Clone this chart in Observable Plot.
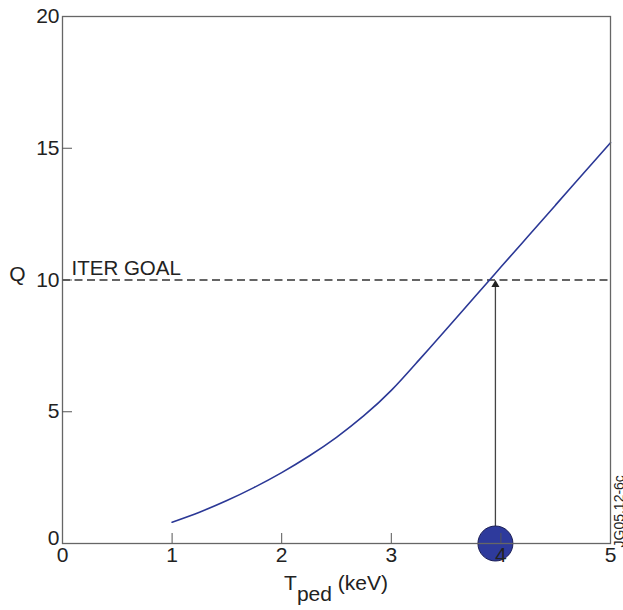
<!DOCTYPE html>
<html><head><meta charset="utf-8">
<script src="https://cdn.jsdelivr.net/npm/d3@7"></script>
<script src="https://cdn.jsdelivr.net/npm/@observablehq/plot@0.6"></script>
<style>body{margin:0;background:#fff;} #chart svg{display:block;}</style>
</head><body><div id="chart"></div>
<script>
// Data
const tped = [1.0, 1.25, 1.5, 1.75, 2.0, 2.25, 2.5, 2.75, 3.0, 3.25, 3.5, 3.75, 4.0, 4.25, 4.5, 4.75, 5.0];
const qValues = [0.81, 1.19, 1.63, 2.13, 2.69, 3.32, 4.03, 4.85, 5.81, 6.95, 8.12, 9.31, 10.49, 11.67, 12.85, 14.03, 15.21];
const xTicks = [0, 1, 2, 3, 4, 5];
const yTicks = [0, 5, 10, 15, 20];
const goalQ = [10];
const goalLabel = ["ITER GOAL"];
const operatingTped = [3.95];
const arrowTipQ = [9.9];
const yLabel = ["Q"];
const figureId = ["JG05.12-6c"];

const curve = tped.map((t, i) => ({t, q: qValues[i]}));
const font = "'Liberation Sans', Arial, Helvetica, sans-serif";

const chart = Plot.plot({
  width: 623, height: 610,
  marginLeft: 62, marginRight: 13, marginTop: 16, marginBottom: 67,
  style: {fontFamily: font, fontSize: "20px", color: "#222", background: "#fff"},
  x: {domain: [0, 5]},
  y: {domain: [0, 20]},
  marks: [
    Plot.ruleY(goalQ, {stroke: "#333", strokeWidth: 1.5, strokeDasharray: "8,4.5"}),
    Plot.line(curve, {x: "t", y: "q", stroke: "#2b3896", strokeWidth: 1.6, curve: "natural"}),
    Plot.ruleX(operatingTped, {x: d => d, y1: 0, y2: arrowTipQ[0], stroke: "#444", strokeWidth: 1.3}),
    Plot.dot(operatingTped, {x: d => d, y: arrowTipQ[0], symbol: "triangle", r: 3, fill: "#222", stroke: "none", dy: 2}),
    Plot.dot(operatingTped, {x: d => d, y: 0, r: 17.5, fill: "#2e3a9c", stroke: "#1c1f55", strokeWidth: 1}),
    Plot.frame({stroke: "#666", strokeWidth: 1.3}),
    Plot.axisX(xTicks.slice(1, -1), {tickSize: 10, dy: -10, text: null, label: null, stroke: "#555"}),
    Plot.axisY(yTicks.slice(1, -1), {tickSize: 10, dx: 10, text: null, label: null, stroke: "#555"}),
    Plot.axisX(xTicks, {tickSize: 0, tickPadding: 4, label: null, fontSize: 21, fill: "#222"}),
    Plot.axisY(yTicks.slice(1), {tickSize: 0, tickPadding: 3, label: null, fontSize: 21, fill: "#222"}),
    Plot.axisY(yTicks.slice(0, 1), {tickSize: 0, tickPadding: 3, dy: -5, label: null, fontSize: 21, fill: "#222"}),
    Plot.text(goalLabel, {x: 0, y: goalQ[0], text: d => d, textAnchor: "start", lineAnchor: "bottom", dx: 9, dy: -5, fontSize: 20.5, fill: "#222"}),
    Plot.text(yLabel, {frameAnchor: "left", text: d => d, textAnchor: "middle", dx: -45, dy: -6, fontSize: 21, fill: "#222"}),
    Plot.text(figureId, {frameAnchor: "bottom-right", text: d => d, rotate: -90, textAnchor: "start", lineAnchor: "middle", dx: 9, dy: 4, fontSize: 14, fill: "#222"})
  ]
});

// x-axis title with subscript, placed at the centre of the x scale
const xs = chart.scale("x");
const svg = d3.select(chart);
const title = svg.append("text")
  .attr("x", (xs.apply(0) + xs.apply(5)) / 2)
  .attr("y", 590)
  .attr("text-anchor", "middle")
  .attr("font-family", font)
  .attr("font-size", 21)
  .attr("fill", "#222");
title.append("tspan").text("T");
title.append("tspan").attr("dy", 11).text("ped");
title.append("tspan").attr("dy", -11).text(" (keV)");

document.getElementById("chart").append(chart);
</script>
</body></html>
